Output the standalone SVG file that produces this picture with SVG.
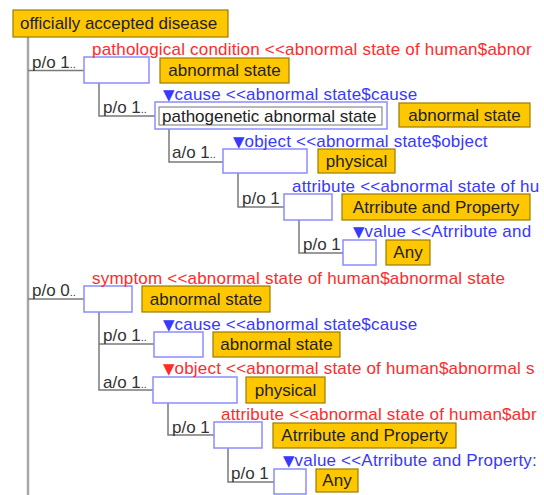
<svg xmlns="http://www.w3.org/2000/svg" width="544" height="495" viewBox="0 0 544 495">
<style>
.t{font-family:"Liberation Sans",Arial,sans-serif;font-size:17px}
.main{stroke:#a8a8a8;stroke-width:2.5;fill:none}
.conn{stroke:#7a7a7a;stroke-width:1.5;fill:none}
.slot{fill:#fff;stroke:#8c8cff;stroke-width:1.5}
.inner{fill:#fff;stroke:#8a8a8a;stroke-width:1.2}
.concept{fill:#ffc700;stroke:#9a7c00;stroke-width:1.2}
.ct{fill:#222;text-anchor:middle}
.lbl{fill:#333}
.red{fill:#ff2b2b;letter-spacing:0.2px}
.blue{fill:#3838ff;letter-spacing:0.2px}
.tri{font-family:"DejaVu Sans",sans-serif;font-size:15px;letter-spacing:0}
.dots{font-size:11px}
</style>
<rect width="544" height="495" fill="#fff"/>
<g id="connectors">
<path class="main" d="M28,37V495"/>
<path class="conn" d="M28,70.5H84"/>
<path class="conn" d="M99,83V116H155"/>
<path class="conn" d="M169,129V162H223"/>
<path class="conn" d="M238,173V207H284"/>
<path class="conn" d="M299,220V253H343"/>
<path class="conn" d="M28,299H84"/>
<path class="conn" d="M99,312V390H153M99,344H154"/>
<path class="conn" d="M168,403V435H214"/>
<path class="conn" d="M228,448V482H274"/>
<text class="t lbl" x="32" y="68">p/o 1<tspan class="dots">..</tspan></text>
<text class="t lbl" x="103" y="113">p/o 1<tspan class="dots">..</tspan></text>
<text class="t lbl" x="172" y="158">a/o 1<tspan class="dots">..</tspan></text>
<text class="t lbl" x="242" y="204">p/o 1</text>
<text class="t lbl" x="303" y="250">p/o 1</text>
<text class="t lbl" x="32" y="296">p/o 0<tspan class="dots">..</tspan></text>
<text class="t lbl" x="103" y="341">p/o 1<tspan class="dots">..</tspan></text>
<text class="t lbl" x="103" y="388">a/o 1<tspan class="dots">..</tspan></text>
<text class="t lbl" x="172" y="433">p/o 1</text>
<text class="t lbl" x="231" y="479">p/o 1</text>
</g>
<g id="n0">
<rect class="concept" x="13" y="10" width="215" height="27"/>
<text class="t" x="20" y="29" fill="#222">officially accepted disease</text>
</g>
<g id="n1">
<rect class="slot" x="84" y="57" width="65" height="26"/>
<text class="t red" x="92" y="55">pathological condition &lt;&lt;abnormal state of human$abnor</text>
<rect class="concept" x="160" y="58" width="129" height="25"/>
<text class="t ct" x="224.5" y="76">abnormal state</text>
</g>
<g id="n2">
<rect class="slot" x="155" y="102" width="232" height="27"/>
<rect class="inner" x="159" y="107" width="223" height="18"/>
<text class="t" x="162" y="122" fill="#222">pathogenetic abnormal state</text>
<text class="t blue" x="163" y="100"><tspan class="tri">▼</tspan>cause &lt;&lt;abnormal state$cause</text>
<rect class="concept" x="399" y="103" width="131" height="24"/>
<text class="t ct" x="464.5" y="121">abnormal state</text>
</g>
<g id="n3">
<rect class="slot" x="223" y="149" width="84" height="24"/>
<text class="t blue" x="233" y="147"><tspan class="tri">▼</tspan>object &lt;&lt;abnormal state$object</text>
<rect class="concept" x="318" y="149" width="77" height="24"/>
<text class="t ct" x="356.5" y="167">physical</text>
</g>
<g id="n4">
<rect class="slot" x="284" y="194" width="48" height="26"/>
<text class="t blue" x="292" y="192">attribute &lt;&lt;abnormal state of hu</text>
<rect class="concept" x="342" y="194" width="188" height="26"/>
<text class="t ct" x="436" y="213">Atrribute and Property</text>
</g>
<g id="n5">
<rect class="slot" x="343" y="240" width="33" height="25"/>
<text class="t blue" x="353" y="237"><tspan class="tri">▼</tspan>value &lt;&lt;Atrribute and</text>
<rect class="concept" x="386" y="240" width="44" height="25"/>
<text class="t ct" x="408" y="258">Any</text>
</g>
<g id="n6">
<rect class="slot" x="84" y="286" width="48" height="26"/>
<text class="t red" x="92" y="284">symptom &lt;&lt;abnormal state of human$abnormal state</text>
<rect class="concept" x="142" y="286" width="128" height="26"/>
<text class="t ct" x="206" y="305">abnormal state</text>
</g>
<g id="n7">
<rect class="slot" x="154" y="332" width="49" height="25"/>
<text class="t blue" x="163" y="330"><tspan class="tri">▼</tspan>cause &lt;&lt;abnormal state$cause</text>
<rect class="concept" x="213" y="332" width="127" height="25"/>
<text class="t ct" x="276.5" y="350">abnormal state</text>
</g>
<g id="n8">
<rect class="slot" x="153" y="377" width="84" height="26"/>
<text class="t red" x="163" y="374"><tspan class="tri">▼</tspan>object &lt;&lt;abnormal state of human$abnormal s</text>
<rect class="concept" x="246" y="377" width="79" height="26"/>
<text class="t ct" x="285.5" y="396">physical</text>
</g>
<g id="n9">
<rect class="slot" x="214" y="422" width="48" height="26"/>
<text class="t red" x="221" y="420">attribute &lt;&lt;abnormal state of human$abr</text>
<rect class="concept" x="273" y="423" width="183" height="25"/>
<text class="t ct" x="364.5" y="441">Atrribute and Property</text>
</g>
<g id="n10">
<rect class="slot" x="274" y="469" width="32" height="25"/>
<text class="t blue" x="283" y="466"><tspan class="tri">▼</tspan>value &lt;&lt;Atrribute and Property:</text>
<rect class="concept" x="316" y="469" width="42" height="23"/>
<text class="t ct" x="337" y="486">Any</text>
</g>
</svg>
